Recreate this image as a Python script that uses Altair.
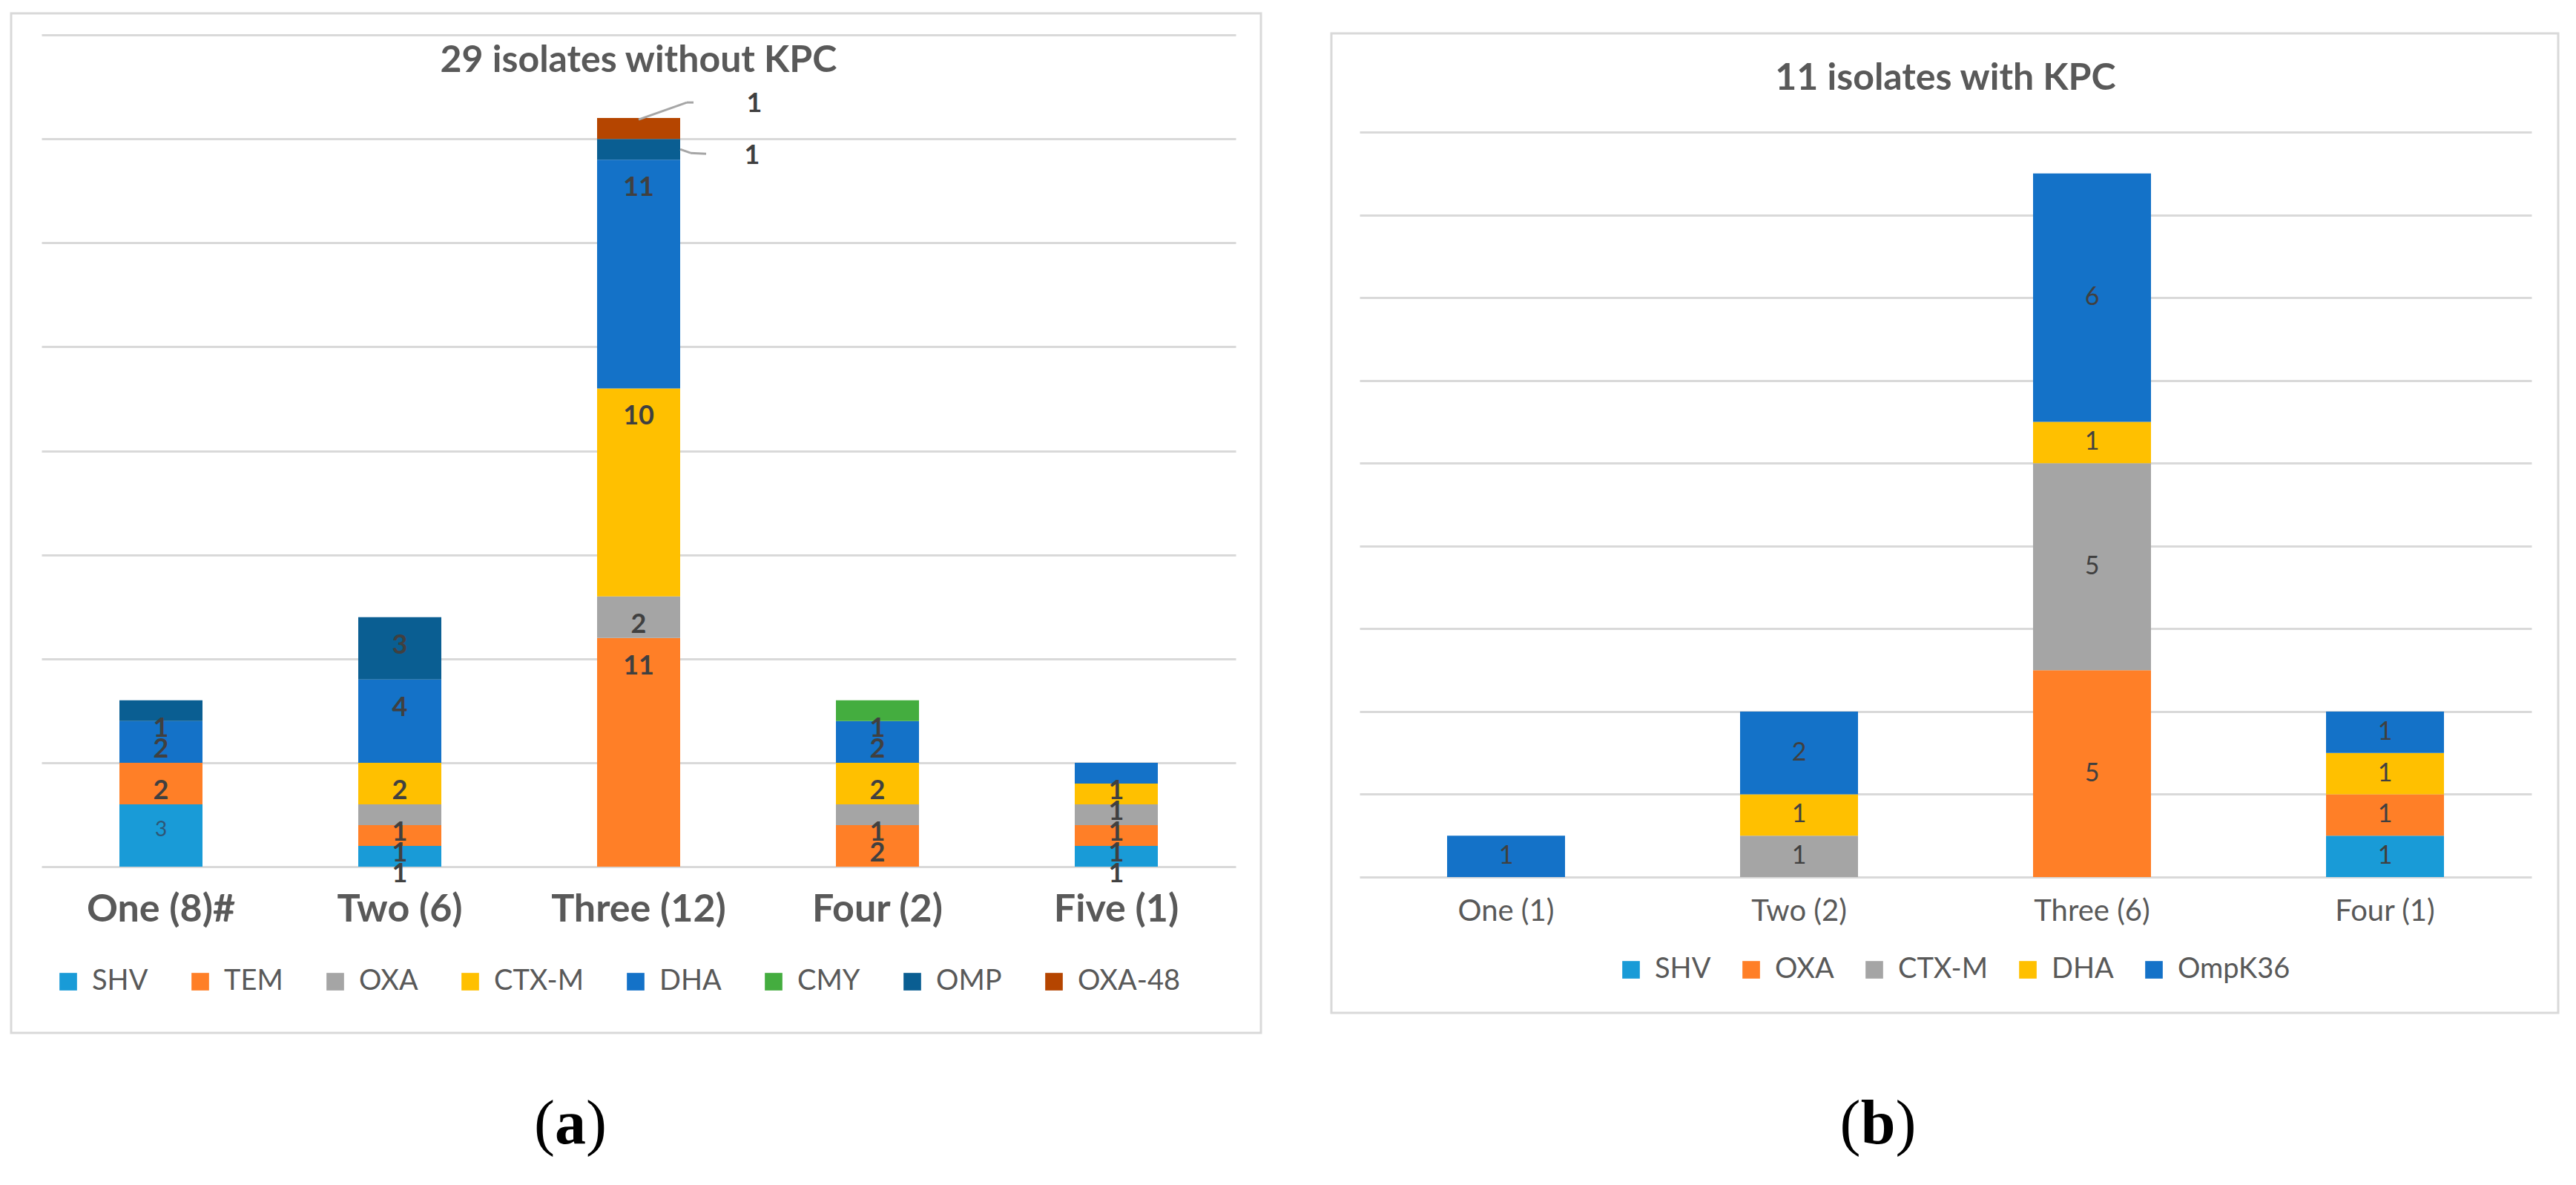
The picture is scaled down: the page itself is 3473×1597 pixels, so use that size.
import altair as alt
import pandas as pd

# ---------------- data: panel (a) ----------------
cats_a = ["One (8)#", "Two (6)", "Three (12)", "Four (2)", "Five (1)"]
series_a = ["SHV", "TEM", "OXA", "CTX-M", "DHA", "CMY", "OMP", "OXA-48"]
shv_a = [3, 1, 0, 0, 1]
tem_a = [2, 1, 11, 2, 1]
oxa_a = [0, 1, 2, 1, 1]
ctxm_a = [0, 2, 10, 2, 1]
dha_a = [2, 4, 11, 2, 1]
cmy_a = [0, 0, 0, 1, 0]
omp_a = [1, 3, 1, 0, 0]
oxa48_a = [0, 0, 1, 0, 0]
colors_a = ["#199BD7", "#FF7F27", "#A5A5A5", "#FFC000", "#1472C8", "#44AD3F", "#0A5E92", "#B54500"]
title_a = "29 isolates without KPC"

# ---------------- data: panel (b) ----------------
cats_b = ["One (1)", "Two (2)", "Three (6)", "Four (1)"]
series_b = ["SHV", "OXA", "CTX-M", "DHA", "OmpK36"]
shv_b = [0, 0, 0, 1]
oxa_b = [0, 0, 5, 1]
ctxm_b = [0, 1, 5, 0]
dha_b = [0, 1, 1, 1]
ompk36_b = [1, 2, 6, 1]
colors_b = ["#199BD7", "#FF7F27", "#A5A5A5", "#FFC000", "#1472C8"]
title_b = "11 isolates with KPC"


def long_df(cats, series, cols):
    rows = []
    for si, (name, vals) in enumerate(zip(series, cols)):
        for cat, v in zip(cats, vals):
            if v > 0:
                rows.append({"cat": cat, "series": name, "idx": si, "count": v})
    return pd.DataFrame(rows)


df_a = long_df(cats_a, series_a, [shv_a, tem_a, oxa_a, ctxm_a, dha_a, cmy_a, omp_a, oxa48_a])
df_b = long_df(cats_b, series_b, [shv_b, oxa_b, ctxm_b, dha_b, ompk36_b])
one = pd.DataFrame({"k": [0]})

FONT = "Lato"
GRID = "#D9D9D9"
TXT = "#595959"


def frame(x1, x2, y1, y2):
    return alt.Chart(one).mark_rect(fillOpacity=0, stroke=GRID, strokeWidth=3).encode(
        x=alt.value(x1), x2=alt.value(x2), y=alt.value(y1), y2=alt.value(y2))


def const_text(txt, x, y, **kw):
    return alt.Chart(one).mark_text(**kw).encode(
        x=alt.value(x), y=alt.value(y), text=alt.value(txt))


def fig_label(letter, cx, y, wl):
    common = dict(font="Liberation Serif", fontSize=84, color="#000000", baseline="alphabetic")
    return alt.layer(
        const_text("(", cx - wl / 2, y, align="right", fontWeight="normal", **common),
        const_text(letter, cx, y, align="center", fontWeight="bold", **common),
        const_text(")", cx + wl / 2, y, align="left", fontWeight="normal", **common),
    )


def stacked(df):
    return alt.Chart(df).transform_stack(
        stack="count", as_=["start", "end"], groupby=["cat"],
        sort=[alt.SortField("idx", order="ascending")]
    ).transform_calculate(mid="(datum.start + datum.end) / 2")


def legend(x, y, cp):
    return alt.Legend(orient="none", legendX=x, legendY=y, direction="horizontal",
                      title=None, symbolType="square", symbolSize=560,
                      symbolStrokeWidth=0, labelFont=FONT, labelFontSize=38,
                      labelColor=TXT, columnPadding=cp, labelOffset=13,
                      labelLimit=600, padding=0)


# ---------------- panel (a) ----------------
W_A, H_A = 1610, 1121
base_a = stacked(df_a)
xa_plain = alt.X("cat:N", sort=cats_a)

bars_a = base_a.mark_bar(size=112).encode(
    x=alt.X("cat:N", sort=cats_a,
            scale=alt.Scale(paddingInner=0, paddingOuter=0),
            axis=alt.Axis(title=None, labelAngle=0, labelFont=FONT, labelFontWeight="bold",
                          labelFontSize=52, labelColor=TXT, labelPadding=57, labelBaseline="middle",
                          domain=False, ticks=False, tickSize=0, labelLimit=600)),
    y=alt.Y("start:Q", scale=alt.Scale(domain=[0, 40], nice=False),
            axis=alt.Axis(title=None, values=list(range(0, 41, 5)), labels=False, ticks=False,
                          domain=False, grid=True, gridColor=GRID, gridWidth=3)),
    y2=alt.Y2("end"),
    color=alt.Color("series:N", scale=alt.Scale(domain=series_a, range=colors_a),
                    legend=legend(17, 1257, 51)),
)

three_a = cats_a[2]
skip_expr = (f"!(datum.cat == '{three_a}' && (datum.series == 'OMP' || datum.series == 'OXA-48'))"
             f" && !(datum.cat == '{cats_a[0]}' && datum.series == 'SHV')")
labels_a = base_a.transform_filter(skip_expr).mark_text(
    font=FONT, fontWeight="bold", fontSize=36, color="#404040", baseline="middle", dy=38
).encode(x=xa_plain, y="end:Q", text="count:Q")

small_a = base_a.transform_filter(
    f"datum.cat == '{cats_a[0]}' && datum.series == 'SHV'"
).mark_text(font=FONT, fontWeight="normal", fontSize=28, color="#2E5675", baseline="middle", dy=35
            ).encode(x=xa_plain, y="end:Q", text="count:Q")

f_oxa48 = f"datum.cat == '{three_a}' && datum.series == 'OXA-48'"
f_omp = f"datum.cat == '{three_a}' && datum.series == 'OMP'"
call_style = dict(font=FONT, fontWeight="bold", fontSize=36, color="#404040", baseline="middle")
call1 = base_a.transform_filter(f_oxa48).mark_text(dx=156, dy=-19, **call_style).encode(
    x=xa_plain, y="end:Q", text="count:Q")
call2 = base_a.transform_filter(f_omp).mark_text(dx=153, dy=23, **call_style).encode(
    x=xa_plain, y="end:Q", text="count:Q")

lead = dict(color="#A6A6A6", strokeWidth=3)
lead1 = base_a.transform_filter(f_oxa48).mark_rule(
    xOffset=0, x2Offset=65, yOffset=2, y2Offset=-21, **lead
).encode(x=xa_plain, x2=alt.X2("cat"), y="end:Q", y2=alt.Y2("end"))
lead1b = base_a.transform_filter(f_oxa48).mark_rule(
    xOffset=65, x2Offset=74, yOffset=-21, y2Offset=-21, **lead
).encode(x=xa_plain, x2=alt.X2("cat"), y="end:Q", y2=alt.Y2("end"))
lead2 = base_a.transform_filter(f_omp).mark_rule(
    xOffset=56, x2Offset=70, yOffset=0, y2Offset=5, **lead
).encode(x=xa_plain, x2=alt.X2("cat"), y="mid:Q", y2=alt.Y2("mid"))
lead2b = base_a.transform_filter(f_omp).mark_rule(
    xOffset=70, x2Offset=91, yOffset=5, y2Offset=6, **lead
).encode(x=xa_plain, x2=alt.X2("cat"), y="mid:Q", y2=alt.Y2("mid"))

panel_a = alt.layer(
    frame(-41, 1644, -29, 1345),
    bars_a, labels_a, small_a, call1, call2, lead1, lead1b, lead2, lead2b,
    const_text(title_a, W_A / 2, 35, font=FONT, fontWeight="bold", fontSize=50, color=TXT,
               baseline="middle", align="center"),
    fig_label("a", 713, 1494, 42),
).properties(width=W_A, height=H_A)

# ---------------- panel (b) ----------------
# plot area starts at the same height as panel (a); the top gridline (18) sits lower
W_B, H_B = 1580, 1135
base_b = stacked(df_b)
xb_plain = alt.X("cat:N", sort=cats_b)

bars_b = base_b.mark_bar(size=159).encode(
    x=alt.X("cat:N", sort=cats_b,
            scale=alt.Scale(paddingInner=0, paddingOuter=0),
            axis=alt.Axis(title=None, labelAngle=0, labelFont=FONT, labelFontWeight="normal",
                          labelFontSize=40, labelColor=TXT, labelPadding=46, labelBaseline="middle",
                          domain=False, ticks=False, tickSize=0, labelLimit=600)),
    y=alt.Y("start:Q", scale=alt.Scale(domain=[0, 20.35], nice=False),
            axis=alt.Axis(title=None, values=list(range(0, 19, 2)), labels=False, ticks=False,
                          domain=False, grid=True, gridColor=GRID, gridWidth=3)),
    y2=alt.Y2("end"),
    color=alt.Color("series:N", scale=alt.Scale(domain=series_b, range=colors_b),
                    legend=legend(347, 1241, 35)),
)

labels_b = base_b.mark_text(
    font=FONT, fontWeight="normal", fontSize=34, color="#404040", baseline="middle"
).encode(x=xb_plain, y="mid:Q", text="count:Q")

panel_b = alt.layer(
    frame(-38, 1616, -2, 1318),
    bars_b, labels_b,
    const_text(title_b, W_B / 2, 59, font=FONT, fontWeight="bold", fontSize=50, color=TXT,
               baseline="middle", align="center"),
    fig_label("b", 699, 1494, 47),
).properties(width=W_B, height=H_B)

chart = alt.hconcat(panel_a, panel_b, spacing=91).resolve_scale(
    color="independent", x="independent", y="independent"
).resolve_legend(color="independent").properties(
    padding={"left": 5, "top": 8, "right": 5, "bottom": 5},
    background="#FFFFFF",
).configure_view(stroke=None)

chart.save("out.html", embed_options={"renderer": "svg", "actions": False})
